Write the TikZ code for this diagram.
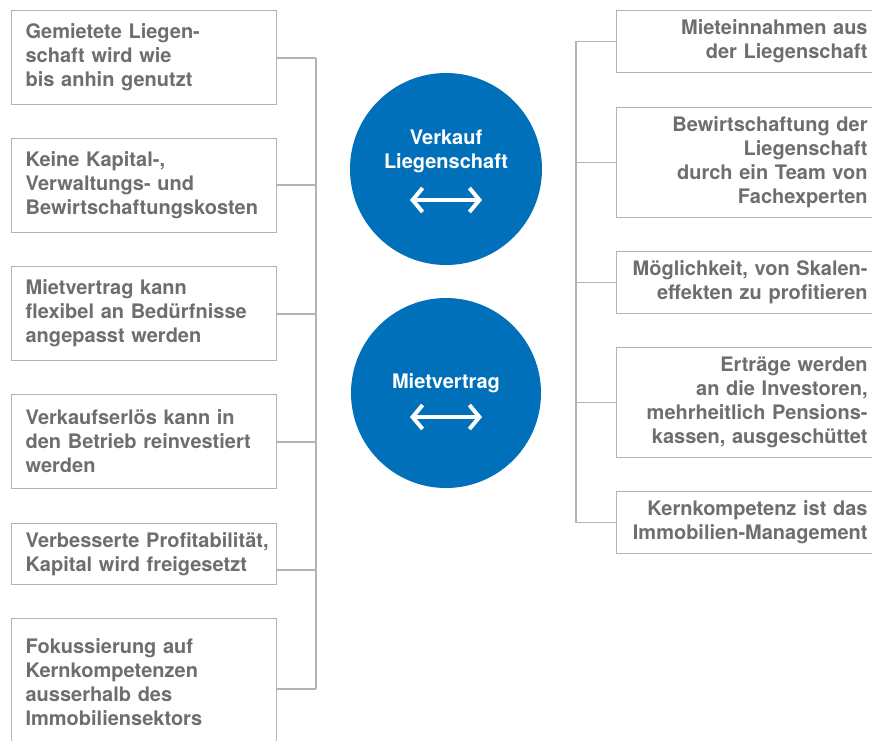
\documentclass[tikz,border=0pt]{standalone}
\usepackage{fontspec}
\setmainfont{TeX Gyre Heros}
\usepackage{xcolor}
\usepackage{tikz}
\usetikzlibrary{positioning}
\usetikzlibrary{arrows.meta}
\definecolor{textgrau}{HTML}{6E6E6E}
\definecolor{liniengrau}{HTML}{B3B3B3}
\definecolor{kreisblau}{HTML}{0070BA}
\def\schrift{\fontsize{20}{24}\selectfont\bfseries\hfuzz=20pt\relax}
\tikzstyle{box} = [rectangle, draw=liniengrau, line width=1.2pt, text=textgrau, font=\schrift]
\tikzstyle{links} = [box, anchor=north west, minimum width=265pt, text width=237pt, inner xsep=14pt, align=left]
\tikzstyle{rechts} = [box, anchor=north west, minimum width=257pt, text width=245pt, inner xsep=6pt, align=right]
\tikzstyle{kreis} = [shape=circle, fill=kreisblau, minimum size=192pt, inner sep=0pt]
\tikzstyle{kreistext} = [text=white, align=center, font=\schrift]
\tikzstyle{linie} = [draw=liniengrau, line width=1.2pt]
\tikzstyle{pfeil} = [draw=white, line width=4pt, {Straight Barb[length=10pt,width=24pt]}-{Straight Barb[length=10pt,width=24pt]}]

\begin{document}
\begin{tikzpicture}[x=1pt,y=-1pt]
    \useasboundingbox (0,0) rectangle (872,740);
    \clip (0,0) rectangle (872,740);
    % linke Seite
    \node[links, minimum height=94pt] (L1) at (11,10) {Gemietete Liegen-\\schaft wird wie\\bis anhin genutzt};
    \node[links, minimum height=94pt] (L2) at (11,138) {Keine Kapital-,\\Verwaltungs- und\\Bewirtschaftungskosten};
    \node[links, minimum height=94pt] (L3) at (11,266) {Mietvertrag kann\\flexibel an Bedürfnisse\\angepasst werden};
    \node[links, minimum height=94pt] (L4) at (11,394) {Verkaufserlös kann in\\den Betrieb reinvestiert\\werden};
    \node[links, minimum height=61pt] (L5) at (11,523) {\mbox{Verbesserte Profitabilität,}\\Kapital wird freigesetzt};
    \node[links, minimum height=128pt] (L6) at (11,618) {Fokussierung auf\\Kernkompetenzen\\ausserhalb des\\Immobiliensektors};
    \coordinate (lt1) at (316,58);
    \coordinate (lt2) at (316,185);
    \coordinate (lt3) at (316,314);
    \coordinate (lt4) at (316,442);
    \coordinate (lt5) at (316,570);
    \coordinate (lt6) at (316,689);
    \draw[linie] (lt1) -- (lt6);
    \foreach \i in {1,...,6}
        \draw[linie] (L\i.east |- lt\i) -- (lt\i);
    % Mitte
    \node[kreis] (verkauf) at (446,169) {};
    \node[kreistext] (verkauftxt) at (446,151) {Verkauf\\Liegenschaft};
    \coordinate (va) at (410,200);
    \coordinate (vb) at (482,200);
    \draw[pfeil] (va) -- (vb);
    \node[kreis, minimum size=190pt] (miete) at (446,393) {};
    \node[kreistext] (mietetxt) at (446,383) {Mietvertrag};
    \coordinate (ma) at (410,417);
    \coordinate (mb) at (482,417);
    \draw[pfeil] (ma) -- (mb);
    % rechte Seite
    \node[rechts, minimum height=62pt] (R1) at (616,10) {Mieteinnahmen aus\\der Liegenschaft};
    \node[rechts, minimum height=110pt] (R2) at (616,107) {Bewirtschaftung der\\Liegenschaft\\durch ein Team von\\Fachexperten};
    \node[rechts, minimum height=62pt] (R3) at (616,251) {Möglichkeit, von Skalen-\\effekten zu profitieren};
    \node[rechts, minimum height=110pt] (R4) at (616,347) {Erträge werden\\an die Investoren,\\mehrheitlich Pensions-\\kassen, ausgeschüttet};
    \node[rechts, minimum height=62pt] (R5) at (616,491) {Kernkompetenz ist das\\Immobilien-Management};
    \coordinate (rt) at (576,41);
    \draw[linie] (rt) -- (R5.west -| rt);
    \foreach \i in {1,...,5}
        \draw[linie] (R\i.west) -- (R\i.west -| rt);
\end{tikzpicture}
\end{document}
